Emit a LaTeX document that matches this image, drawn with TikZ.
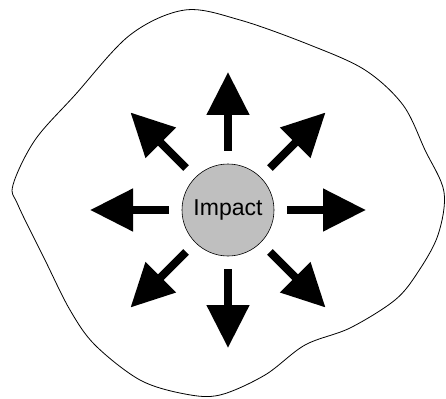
\documentclass[tikz,border=0pt]{standalone}
\usepackage{fontspec}
\newfontfamily\impactfont{Liberation Sans}
\usetikzlibrary{calc, arrows.meta}

\begin{document}
\begin{tikzpicture}[
    x=1pt, y=-1pt,
    outline/.style={draw=black, line width=0.8pt},
    core/.style={circle, draw=black, fill=black!25, line width=0.6pt,
      minimum size=92pt, inner sep=0pt, font=\impactfont\fontsize{23}{26}\selectfont},
    burst/.style={-{Triangle[length=43pt, width=41pt]}, line width=8pt, shorten <=13pt},
  ]
    \useasboundingbox (0,0) rectangle (446,398);

    % boundary of the affected area
    \draw[outline] plot[smooth cycle, tension=0.55] coordinates {
      (13,185) (35,140) (75,95) (130,35) (185,10) (240,20) (310,45)
      (365,70) (403,105) (425,150) (444,192) (438,235) (418,272)
      (395,300) (350,328) (305,345) (265,375) (220,395) (185,394)
      (140,380) (95,345) (70,310) (45,260) (18,205)};

    \node[core] (impact) at (228,210) {Impact};

    \foreach \a [count=\i] in {0,45,...,315}
      \coordinate (tip\i) at ($(impact)+(\a:138pt)$);
    \foreach \i in {1,...,8}
      \draw[burst] (impact) -- (tip\i);
  \end{tikzpicture}
\end{document}
